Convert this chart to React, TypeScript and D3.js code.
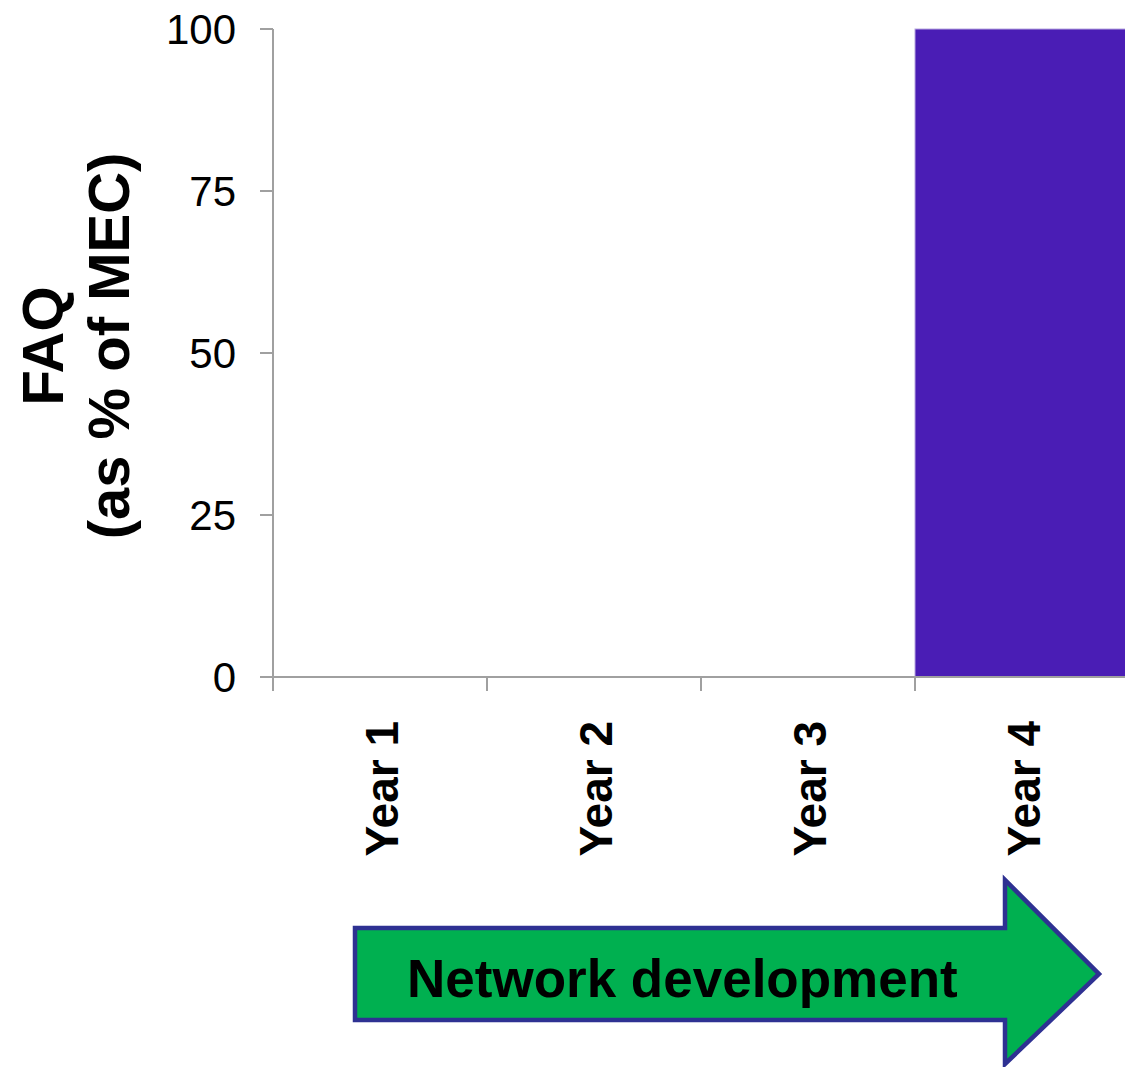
import React from "react";
import * as d3 from "d3";

const categories = ["Year 1", "Year 2", "Year 3", "Year 4"];
const values = [0, 0, 0, 100];
const yTicks = [0, 25, 50, 75, 100];
const yTitleLines = ["FAQ", "(as % of MEC)"];
const arrowLabel = "Network development";

export default function App() {
  const W = 1125;
  const H = 1067;
  const x = d3.scaleBand<string>().domain(categories).range([273, 1129]).padding(0);
  const y = d3.scaleLinear().domain([0, 100]).range([677, 29]);
  const axisColor = "#a0a0a0";
  const font = "'Liberation Sans', Arial, sans-serif";

  // arrow geometry
  const ax0 = 355, ax1 = 1005, ay0 = 928, ay1 = 1020, headTop = 880, headBot = 1064, tipX = 1099;
  const tipY = (ay0 + ay1) / 2;
  const arrowPath = d3.path();
  arrowPath.moveTo(ax0, ay0);
  arrowPath.lineTo(ax1, ay0);
  arrowPath.lineTo(ax1, headTop);
  arrowPath.lineTo(tipX, tipY);
  arrowPath.lineTo(ax1, headBot);
  arrowPath.lineTo(ax1, ay1);
  arrowPath.lineTo(ax0, ay1);
  arrowPath.closePath();

  return (
    <svg width={W} height={H} style={{ position: "absolute", left: 0, top: 0, background: "#fff" }} fontFamily={font}>
      <rect x={0} y={0} width={W} height={H} fill="#fff" />
      {/* bars */}
      {categories.map((c, i) =>
        values[i] > 0 ? (
          <rect
            key={c}
            x={x(c)!}
            y={y(values[i])}
            width={x.bandwidth()}
            height={y(0) - y(values[i])}
            fill="#4a1db5"
            stroke="#b8a8e0"
            strokeWidth={1}
          />
        ) : null
      )}
      {/* y axis */}
      <line x1={273} x2={273} y1={y(100)} y2={y(0) + 14} stroke={axisColor} strokeWidth={2} />
      {yTicks.map((t) => (
        <g key={t}>
          <line x1={260} x2={273} y1={y(t)} y2={y(t)} stroke={axisColor} strokeWidth={2} />
          <text x={236} y={y(t)} textAnchor="end" dominantBaseline="central" fontSize={42} fill="#000">
            {t}
          </text>
        </g>
      ))}
      {/* x axis */}
      <line x1={260} x2={W} y1={y(0)} y2={y(0)} stroke={axisColor} strokeWidth={2} />
      {categories.map((c) => (
        <line key={c} x1={x(c)!} x2={x(c)!} y1={y(0)} y2={y(0) + 14} stroke={axisColor} strokeWidth={2} />
      ))}
      {categories.map((c) => {
        const cx = x(c)! + x.bandwidth() / 2 + 2;
        return (
          <text
            key={c}
            transform={`translate(${cx},721) rotate(-90)`}
            textAnchor="end"
            dominantBaseline="central"
            fontSize={46}
            fontWeight="bold"
            fill="#000"
          >
            {c}
          </text>
        );
      })}
      {/* y title */}
      {yTitleLines.map((l, i) => (
        <text
          key={l}
          transform={`translate(${i === 0 ? 63 : 129},346) rotate(-90)`}
          textAnchor="middle"
          fontSize={58}
          fontWeight="bold"
          fill="#000"
        >
          {l}
        </text>
      ))}
      {/* arrow */}
      <path d={arrowPath.toString()} fill="#00b050" stroke="#2e3192" strokeWidth={4.5} strokeLinejoin="miter" />
      <text x={407} y={997} fontSize={53} fontWeight="bold" fill="#000">
        {arrowLabel}
      </text>
    </svg>
  );
}
